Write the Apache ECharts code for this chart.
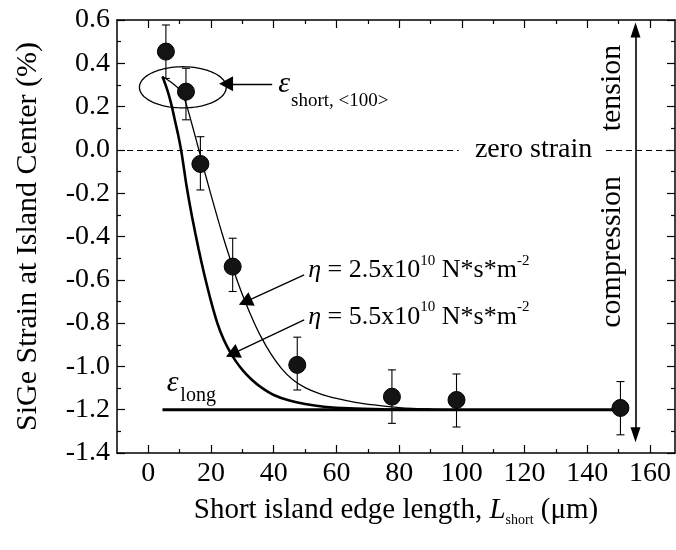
<!DOCTYPE html>
<html><head><meta charset="utf-8">
<script src="https://cdn.jsdelivr.net/npm/echarts@6/dist/echarts.min.js"></script>
<style>html,body{margin:0;padding:0;background:#fff}#c{width:676px;height:550px}</style>
</head><body><div id="c"></div>
<script>
const FONT = '"Liberation Serif", "Times New Roman", Times, serif';

// ---- axis ticks ----
const xMajorTicks = [0, 20, 40, 60, 80, 100, 120, 140, 160];
const xMinorTicks = [10, 30, 50, 70, 90, 110, 130, 150];

// ---- measured strain points ----
const ptsX  = [5.6, 12.0, 16.6, 26.9, 47.5, 77.7, 98.3, 150.6];
const ptsY  = [0.454, 0.269, -0.065, -0.539, -0.993, -1.140, -1.155, -1.192];
const errLo = [0.330, 0.139, -0.185, -0.654, -1.109, -1.263, -1.280, -1.316];
const errHi = [0.577, 0.377, 0.061, -0.408, -0.865, -1.016, -1.035, -1.070];

// ---- model curve, eta = 2.5e10 (thin) ----
const fit25X = [4.5, 7.7, 10.5, 12, 13.5, 15, 16.5, 18.5, 21, 23.5, 26, 28.5, 31, 33.5, 36, 39, 42.5, 46, 50, 55, 60, 66, 72, 80, 90, 100];
const fit25Y = [0.339, 0.308, 0.270, 0.215, 0.140, 0.060, -0.020, -0.130, -0.260, -0.385, -0.500, -0.610, -0.705, -0.790, -0.865, -0.940, -1.010, -1.060, -1.098, -1.128, -1.148, -1.166, -1.178, -1.190, -1.197, -1.200];

// ---- model curve, eta = 5.5e10 (thick) ----
const fit55X = [4.5, 5.5, 6.5, 7.5, 8.5, 9.5, 10.5, 11.5, 12, 13, 14, 15, 16, 17, 18, 20, 22, 24, 26, 28, 30, 33, 36, 40, 45, 50, 56, 64, 75, 90];
const fit55Y = [0.339, 0.300, 0.255, 0.200, 0.135, 0.070, -0.005, -0.100, -0.150, -0.235, -0.313, -0.386, -0.456, -0.522, -0.585, -0.700, -0.800, -0.875, -0.932, -0.978, -1.016, -1.062, -1.097, -1.132, -1.158, -1.174, -1.186, -1.194, -1.198, -1.200];

// ---- long-edge strain level ----
const longX = [4.5, 150.6];
const longY = [-1.2, -1.2];

// ---- annotations (data coordinates) ----
const ellipseSpec = [[11.0, 0.289, 13.85, 0.095]];
const notes = [
  {pos: [122.9, 0.0],   text: 'zero strain', size: 28, align: 'center'},
  {pos: [147.8, 0.286], text: 'tension', size: 30, align: 'center', rotate: 90},
  {pos: [147.8, -0.471], text: 'compression', size: 30, align: 'center', rotate: 90},
  {pos: [41.4, 0.305],  text: 'ε', size: 30, italic: true, align: 'left'},
  {pos: [45.5, 0.228],  text: 'short, <100>', size: 19, align: 'left'},
  {pos: [5.9, -1.075],  text: 'ε', size: 30, italic: true, align: 'left'},
  {pos: [10.2, -1.135], text: 'long', size: 20, align: 'left'},
  {pos: [51.0, -0.556], rich: '{i|η}{n| = 2.5x10}{s|10}{n| N*s*m}{s|-2}', align: 'left'},
  {pos: [51.0, -0.772], rich: '{i|η}{n| = 5.5x10}{s|10}{n| N*s*m}{s|-2}', align: 'left'}
];
const arrowLines = [
  {from: [39.5, 0.305], to: [24.8, 0.305]},
  {from: [49.7, -0.577], to: [30.9, -0.702]},
  {from: [49.7, -0.785], to: [26.8, -0.942]}
];
const zeroDash = [[-10, 99], [146, 168]];
const bigArrow = {x: 155.4, y0: -1.316, y1: 0.554};

const chart = echarts.init(document.getElementById('c'), null, {renderer: 'canvas'});

const axisLineStyle = {color: '#000', width: 1.5};
const tickStyle = {color: '#000', width: 1.2};
const xBase = {type: 'value', min: -10, max: 168, splitLine: {show: false}};

const etaRich = {
  i: {fontFamily: FONT, fontSize: 26, fontStyle: 'italic', lineHeight: 34, verticalAlign: 'middle', fill: '#000'},
  n: {fontFamily: FONT, fontSize: 26, lineHeight: 34, verticalAlign: 'middle', fill: '#000'},
  s: {fontFamily: FONT, fontSize: 15, lineHeight: 15, verticalAlign: 'top', fill: '#000'}
};

const option = {
  animation: false,
  backgroundColor: '#fff',
  grid: {left: 117, right: 1, top: 20, bottom: 97, containLabel: false},
  xAxis: [
    Object.assign({}, xBase, {
      position: 'bottom',
      axisLine: {show: true, onZero: false, lineStyle: axisLineStyle},
      axisTick: {show: true, inside: true, length: 8, customValues: xMajorTicks, lineStyle: tickStyle},
      axisLabel: {customValues: xMajorTicks, fontFamily: FONT, fontSize: 28, color: '#000', margin: 7},
      name: '{n|Short island edge length, }{i|L}{s|short}{n| (μm)}',
      nameLocation: 'middle', nameGap: 40,
      nameTextStyle: {
        rich: {
          n: {fontFamily: FONT, fontSize: 29, color: '#000', lineHeight: 34, verticalAlign: 'middle'},
          i: {fontFamily: FONT, fontSize: 29, fontStyle: 'italic', color: '#000', lineHeight: 34, verticalAlign: 'middle'},
          s: {fontFamily: FONT, fontSize: 14, color: '#000', lineHeight: 14, verticalAlign: 'bottom'}
        }
      }
    }),
    Object.assign({}, xBase, {
      position: 'bottom',
      axisLine: {show: false, onZero: false},
      axisTick: {show: true, inside: true, length: 4, customValues: xMinorTicks, lineStyle: tickStyle},
      axisLabel: {show: false, customValues: xMinorTicks}
    }),
    Object.assign({}, xBase, {
      position: 'top',
      axisLine: {show: true, onZero: false, lineStyle: axisLineStyle},
      axisTick: {show: true, inside: true, length: 8, customValues: xMajorTicks, lineStyle: tickStyle},
      axisLabel: {show: false, customValues: xMajorTicks}
    }),
    Object.assign({}, xBase, {
      position: 'top',
      axisLine: {show: false, onZero: false},
      axisTick: {show: true, inside: true, length: 4, customValues: xMinorTicks, lineStyle: tickStyle},
      axisLabel: {show: false, customValues: xMinorTicks}
    })
  ],
  yAxis: [
    {
      type: 'value', min: -1.4, max: 0.6, interval: 0.2, position: 'left',
      axisLine: {show: true, onZero: false, lineStyle: axisLineStyle},
      axisTick: {show: true, inside: true, length: 8, lineStyle: tickStyle},
      minorTick: {show: true, splitNumber: 2, length: 4, lineStyle: tickStyle},
      splitLine: {show: false}, minorSplitLine: {show: false},
      axisLabel: {fontFamily: FONT, fontSize: 28, color: '#000', margin: 7,
        formatter: v => (Math.abs(v) < 1e-9 ? 0 : v).toFixed(1)},
      name: 'SiGe Strain at Island Center (%)',
      nameLocation: 'middle', nameGap: 74, nameRotate: 90,
      nameTextStyle: {fontFamily: FONT, fontSize: 30, color: '#000'}
    },
    {
      type: 'value', min: -1.4, max: 0.6, interval: 0.2, position: 'right',
      axisLine: {show: true, onZero: false, lineStyle: axisLineStyle},
      axisTick: {show: true, inside: true, length: 8, lineStyle: tickStyle},
      minorTick: {show: true, splitNumber: 2, length: 4, lineStyle: tickStyle},
      splitLine: {show: false}, minorSplitLine: {show: false},
      axisLabel: {show: false}
    }
  ],
  series: [
    {
      name: 'long', type: 'line', xAxisIndex: 0, yAxisIndex: 0,
      data: longX.map((x, i) => [x, longY[i]]),
      symbol: 'none', lineStyle: {color: '#000', width: 3}, z: 3,
      markLine: {
        silent: true, animation: false, symbol: ['none', 'none'], label: {show: false},
        lineStyle: {color: '#000', width: 1.3, type: 'solid'},
        data: [
          ...zeroDash.map(seg => [
            {coord: [seg[0], 0], lineStyle: {color: '#000', width: 1.1, type: [6, 4]}},
            {coord: [seg[1], 0]}
          ]),
          ...arrowLines.map(a => [
            {coord: a.from, lineStyle: {color: '#000', width: 1.3, type: 'solid'}},
            {coord: a.to, symbol: 'triangle', symbolSize: [15, 14]}
          ]),
          [
            {coord: [bigArrow.x, bigArrow.y0], symbol: 'triangle', symbolSize: [10, 15], lineStyle: {color: '#000', width: 1.6, type: 'solid'}},
            {coord: [bigArrow.x, bigArrow.y1], symbol: 'triangle', symbolSize: [10, 15]}
          ]
        ]
      }
    },
    {
      name: 'eta25', type: 'line', xAxisIndex: 0, yAxisIndex: 0,
      data: fit25X.map((x, i) => [x, fit25Y[i]]),
      symbol: 'none', smooth: 0.3,
      lineStyle: {color: '#000', width: 1.3}, z: 3
    },
    {
      name: 'eta55', type: 'line', xAxisIndex: 0, yAxisIndex: 0,
      data: fit55X.map((x, i) => [x, fit55Y[i]]),
      symbol: 'none', smooth: 0.3,
      lineStyle: {color: '#000', width: 2.6}, z: 3
    },
    {
      name: 'err', type: 'custom', xAxisIndex: 0, yAxisIndex: 0,
      data: ptsX.map((x, i) => [x, errLo[i], errHi[i]]),
      renderItem: (params, api) => {
        const lo = api.coord([api.value(0), api.value(1)]);
        const hi = api.coord([api.value(0), api.value(2)]);
        const w = 4;
        const st = {stroke: '#000', lineWidth: 1.1};
        return {type: 'group', children: [
          {type: 'line', shape: {x1: lo[0], y1: lo[1], x2: hi[0], y2: hi[1]}, style: st},
          {type: 'line', shape: {x1: lo[0] - w, y1: lo[1], x2: lo[0] + w, y2: lo[1]}, style: st},
          {type: 'line', shape: {x1: hi[0] - w, y1: hi[1], x2: hi[0] + w, y2: hi[1]}, style: st}
        ]};
      },
      z: 4
    },
    {
      name: 'pts', type: 'scatter', xAxisIndex: 0, yAxisIndex: 0,
      data: ptsX.map((x, i) => [x, ptsY[i]]),
      symbol: 'circle', symbolSize: 17,
      itemStyle: {color: '#141414', borderColor: '#000', borderWidth: 1, opacity: 1},
      z: 5
    },
    {
      name: 'ellipse', type: 'custom', xAxisIndex: 0, yAxisIndex: 0,
      data: ellipseSpec,
      renderItem: (params, api) => {
        const c = api.coord([api.value(0), api.value(1)]);
        const s = api.size([api.value(2), api.value(3)]);
        const pts = [];
        for (let k = 0; k < 96; k++) {
          const t = k / 96 * Math.PI * 2;
          pts.push([c[0] + s[0] * Math.cos(t), c[1] + s[1] * Math.sin(t)]);
        }
        return {type: 'polygon', shape: {points: pts}, style: {fill: 'none', stroke: '#000', lineWidth: 1.3}};
      },
      z: 6
    },
    {
      name: 'notes', type: 'custom', xAxisIndex: 0, yAxisIndex: 0,
      data: notes.map(n => n.pos),
      renderItem: (params, api) => {
        const n = notes[params.dataIndex];
        const p = api.coord([api.value(0), api.value(1)]);
        const style = {fill: '#000', align: n.align, verticalAlign: 'middle'};
        if (n.rich) {
          style.text = n.rich;
          style.rich = etaRich;
          style.fontFamily = FONT; style.fontSize = 26;
        } else {
          style.text = n.text;
          style.fontFamily = FONT;
          style.fontSize = n.size;
          style.fontStyle = n.italic ? 'italic' : 'normal';
        }
        const el = {type: 'text', x: p[0], y: p[1], style: style};
        if (n.rotate) el.rotation = n.rotate * Math.PI / 180;
        return el;
      },
      z: 7
    }
  ]
};
chart.setOption(option);
</script>
</body></html>
